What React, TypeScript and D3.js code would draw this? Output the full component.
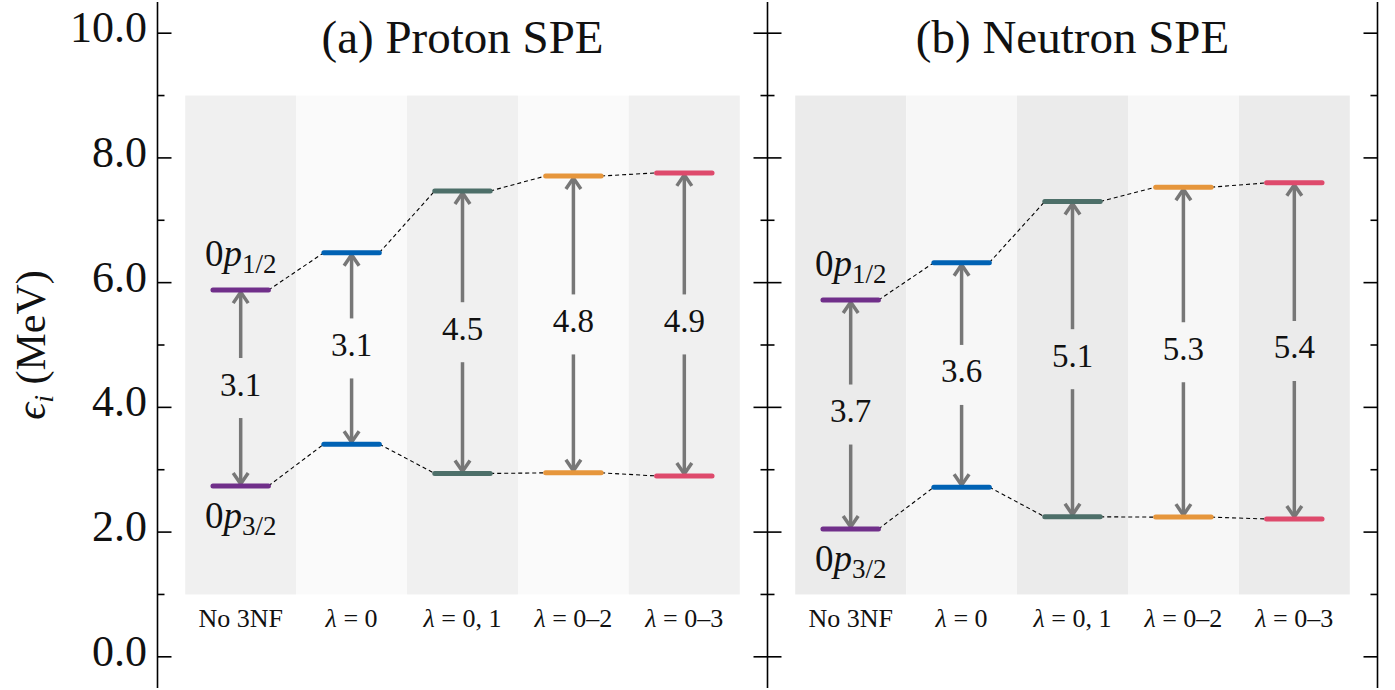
import React from 'react';
import * as d3 from 'd3';

// categories along each panel
const categories = ['No 3NF', 'λ = 0', 'λ = 0, 1', 'λ = 0–2', 'λ = 0–3'];
const levelColors = ['#702f8a', '#0062b4', '#4d6f69', '#e6963c', '#de4a6c'];

// single particle energies (MeV)
const protonUpper = [5.88, 6.48, 7.47, 7.71, 7.76];
const protonLower = [2.74, 3.41, 2.94, 2.95, 2.9];
const neutronUpper = [5.72, 6.32, 7.3, 7.53, 7.6];
const neutronLower = [2.05, 2.72, 2.245, 2.24, 2.21];

const yMajorTicks = [0, 2, 4, 6, 8, 10];
const yMinorTicks = [1, 3, 5, 7, 9];

const panels = [
  { title: '(a) Proton SPE', upper: protonUpper, lower: protonLower, left: 157.5, dark: '#f0f0f0', light: '#fafafa' },
  { title: '(b) Neutron SPE', upper: neutronUpper, lower: neutronLower, left: 767.5, dark: '#ebebeb', light: '#f7f7f7' },
];

const W = 1395;
const H = 690;
const panelW = 610;
const FONT = '"Liberation Serif", "DejaVu Serif", serif';
const GRAY = '#777777';

const y = d3.scaleLinear().domain([-0.5, 10.5]).range([688, 2]);

const Arrow = ({ x, y1, y2 }: { x: number; y1: number; y2: number }) => {
  // shaft from y1 to the tip at y2, open head like matplotlib '->'
  const dir = y2 > y1 ? 1 : -1;
  const hl = 11;
  const hw = 7.5;
  return (
    <g stroke={GRAY} strokeWidth={3.5} fill="none">
      <line x1={x} y1={y1} x2={x} y2={y2 - dir * 1.5} />
      <polyline points={`${x - hw},${y2 - dir * hl} ${x},${y2} ${x + hw},${y2 - dir * hl}`} />
    </g>
  );
};

const Panel = ({ p }: { p: typeof panels[0] }) => {
  const x = d3.scaleLinear().domain([-0.75, 4.75]).range([p.left, p.left + panelW]);
  const half = 0.25;
  const bandW = x(1) - x(0);
  const connector = (vals: number[]) =>
    vals.slice(1).map((v, i) => `M${x(i + half)},${y(vals[i])}L${x(i + 1 - half)},${y(v)}`).join('');
  return (
    <g>
      {categories.map((c, i) => (
        <rect key={'b' + i} x={x(i - 0.5)} y={y(9)} width={bandW} height={y(1) - y(9)}
          fill={i % 2 === 0 ? p.dark : p.light} />
      ))}
      {/* dashed connectors */}
      {[p.upper, p.lower].map((vals, k) => (
        <path key={'d' + k} d={connector(vals)}
          stroke="#000" strokeWidth={1.1} strokeDasharray="4,3" fill="none" />
      ))}
      {/* arrows and gap labels */}
      {categories.map((c, i) => {
        const yu = y(p.upper[i]);
        const yl = y(p.lower[i]);
        const mid = (yu + yl) / 2;
        const gap = (p.upper[i] - p.lower[i]).toFixed(1);
        return (
          <g key={'a' + i}>
            <Arrow x={x(i)} y1={mid - 30} y2={yu + 2} />
            <Arrow x={x(i)} y1={mid + 30} y2={yl - 2} />
            <text x={x(i)} y={mid + 7.5} textAnchor="middle" fontSize={33} fill="#111">{gap}</text>
          </g>
        );
      })}
      {/* levels */}
      {categories.map((c, i) => (
        <g key={'l' + i} stroke={levelColors[i]} strokeWidth={5} strokeLinecap="round">
          <line x1={x(i - half)} x2={x(i + half)} y1={y(p.upper[i])} y2={y(p.upper[i])} />
          <line x1={x(i - half)} x2={x(i + half)} y1={y(p.lower[i])} y2={y(p.lower[i])} />
        </g>
      ))}
      {/* orbital labels */}
      <text x={x(0)} y={y(p.upper[0]) - 24} textAnchor="middle" fontSize={37} fill="#111">
        0<tspan fontStyle="italic">p</tspan><tspan fontSize={27} dy={7}>1/2</tspan>
      </text>
      <text x={x(0)} y={y(p.lower[0]) + 42} textAnchor="middle" fontSize={37} fill="#111">
        0<tspan fontStyle="italic">p</tspan><tspan fontSize={27} dy={7}>3/2</tspan>
      </text>
      {/* category labels */}
      {categories.map((c, i) => (
        <text key={'c' + i} x={x(i)} y={627} textAnchor="middle" fontSize={26} fill="#111">
          {c.startsWith('λ') ? (<><tspan fontStyle="italic">λ</tspan>{c.slice(1)}</>) : c}
        </text>
      ))}
      <text x={x(2)} y={53} textAnchor="middle" fontSize={47} fill="#111">{p.title}</text>
    </g>
  );
};

const Spine = ({ x, left, right }: { x: number; left: boolean; right: boolean }) => (
  <g stroke="#000" strokeWidth={1.6}>
    <line x1={x} x2={x} y1={y(10.5)} y2={y(-0.5)} />
    {yMajorTicks.map(t => (
      <line key={'M' + t} x1={left ? x - 14 : x} x2={right ? x + 14 : x} y1={y(t)} y2={y(t)} />
    ))}
    {yMinorTicks.map(t => (
      <line key={'m' + t} x1={left ? x - 7 : x} x2={right ? x + 7 : x} y1={y(t)} y2={y(t)} />
    ))}
  </g>
);

export default function App() {
  return (
    <div style={{ position: 'absolute', left: 0, top: 0 }}>
      <svg width={W} height={H} style={{ display: 'block', fontFamily: FONT }}>
        <rect width={W} height={H} fill="#fff" />
        {panels.map((p, i) => <Panel key={i} p={p} />)}
        <Spine x={157.5} left={false} right={true} />
        <Spine x={767.5} left={true} right={true} />
        <Spine x={1377.5} left={true} right={false} />
        {yMajorTicks.map(t => (
          <text key={t} x={147} y={y(t) + 9} textAnchor="end" fontSize={44} fill="#111">{t.toFixed(1)}</text>
        ))}
        <text transform={`translate(45,345) rotate(-90)`} textAnchor="middle" fontSize={42} fill="#111">
          <tspan fontStyle="italic">ϵ</tspan><tspan fontStyle="italic" fontSize={28} dy={8}>i</tspan>
          <tspan dy={-8}> (MeV)</tspan>
        </text>
      </svg>
    </div>
  );
}
